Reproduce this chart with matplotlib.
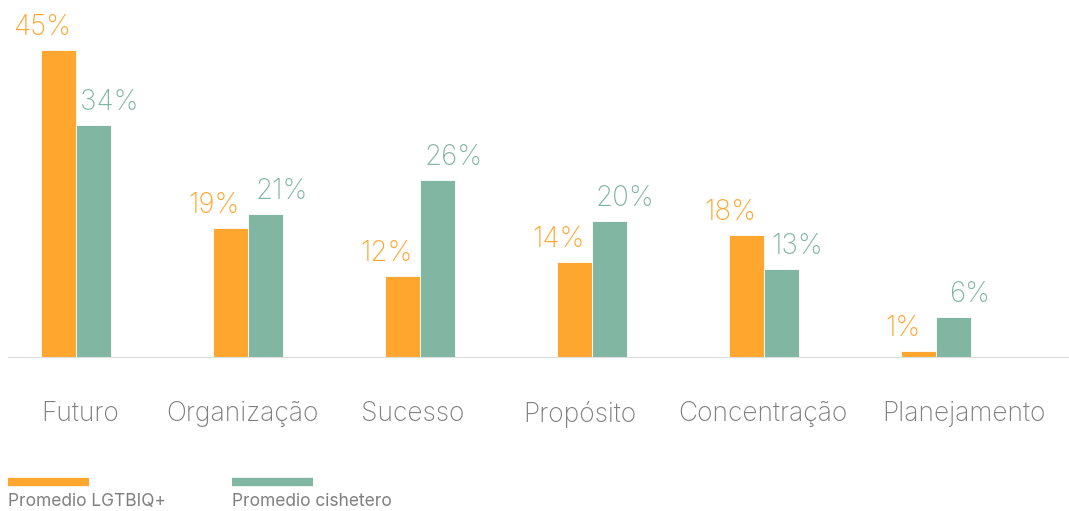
import matplotlib
matplotlib.use("Agg")
import matplotlib.pyplot as plt
import numpy as np

categories = ["Futuro", "Organização", "Sucesso", "Propósito", "Concentração", "Planejamento"]
lgtbiq = [45, 19, 12, 14, 18, 1]
cishetero = [34, 21, 26, 20, 13, 6]
series_names = ["Promedio LGTBIQ+", "Promedio cishetero"]

# the category labels in the original are not quite centred under the bars
label_shift_px = [4, -6, -7, -12, -1, 28]

ORANGE = "#FFA62F"
GREEN = "#81B7A2"
GRAY = "#7f7f7f"

plt.rcParams["font.family"] = ["Inter", "DejaVu Sans"]

W, H = 1069, 511
fig = plt.figure(figsize=(W / 100, H / 100), dpi=100)

base_px = 358
ax = fig.add_axes([8 / W, 1 - base_px / H, 1 - 8 / W, base_px / H])

x = np.arange(len(categories))
width = 35 / 172
ax.bar(x - width / 2, lgtbiq, width, color=ORANGE, edgecolor="white", linewidth=0.6)
ax.bar(x + width / 2, cishetero, width, color=GREEN, edgecolor="white", linewidth=0.6)

ax.set_xlim(-68 / 172, (1069 - 76) / 172)
ax.set_ylim(0, base_px / 6.84)

for i in range(len(categories)):
    ax.annotate(f"{lgtbiq[i]}%", (x[i] - width / 2, lgtbiq[i]), xytext=(-16, 9),
                textcoords="offset pixels", ha="center", va="bottom",
                color=ORANGE, fontsize=20, fontweight="light")
    ax.annotate(f"{cishetero[i]}%", (x[i] + width / 2, cishetero[i]), xytext=(16, 9),
                textcoords="offset pixels", ha="center", va="bottom",
                color=GREEN, fontsize=20, fontweight="light")
    ax.annotate(categories[i], (x[i], 0), xytext=(label_shift_px[i], -56),
                textcoords="offset pixels", ha="center", va="center",
                color=GRAY, fontsize=19, fontweight="light")

ax.axhline(0, color="#dddddd", linewidth=1.5)
ax.axis("off")

# legend drawn by hand
fig.add_artist(plt.Line2D([8 / W, 89 / W], [1 - 482 / H] * 2, color=ORANGE, linewidth=6,
                          solid_capstyle="butt"))
fig.add_artist(plt.Line2D([232 / W, 313 / W], [1 - 482 / H] * 2, color=GREEN, linewidth=6,
                          solid_capstyle="butt"))
fig.text(8 / W, 1 - 501 / H, series_names[0], color=GRAY, fontsize=12.5, va="center")
fig.text(232 / W, 1 - 501 / H, series_names[1], color=GRAY, fontsize=12.5, va="center")

fig.savefig("out.png", dpi=100)
